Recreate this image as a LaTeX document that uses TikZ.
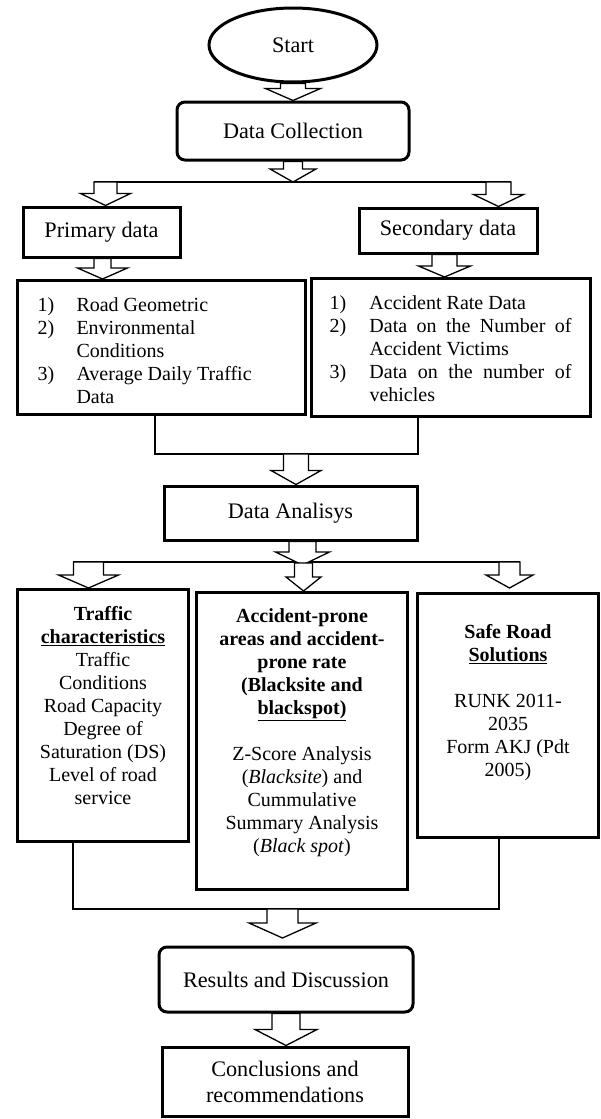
\documentclass[tikz,border=0pt]{standalone}
\usepackage{fontspec}
\setmainfont{Liberation Serif}
\usetikzlibrary{shapes.geometric,calc,backgrounds}
\newcommand{\bigfnt}{\fontsize{22.2pt}{26pt}\selectfont}
\newcommand{\smfnt}{\fontsize{20pt}{23pt}\selectfont}
\newcommand{\itm}[2]{\hangindent=#1\hangafter=1\strut\makebox[#1][l]{#2}\ignorespaces}
\begin{document}
\begin{tikzpicture}[x=1pt,y=-1pt,
  box/.style={draw=black, line width=3pt, inner sep=0pt, align=center, font=\bigfnt},
  rbox/.style={box, rounded corners=8pt},
  pbox/.style={draw=black, line width=3pt, inner sep=0pt, anchor=north west},
  conn/.style={draw=black, line width=1.3pt},
  barrow/.style n args={3}{draw=black, fill=white, line width=1.3pt, line join=miter,
    to path={let \p1=(\tikztostart), \p2=(\tikztotarget) in
      (\x1-#1,\y1) -- (\x1-#1,\y2+#3) -- (\x1-#2,\y2+#3) -- (\x1,\y2)
      -- (\x1+#2,\y2+#3) -- (\x1+#1,\y2+#3) -- (\x1+#1,\y1) -- cycle}}
]
\useasboundingbox (0,0) rectangle (600,1119);

% ---------- nodes ----------
\node[box, ellipse, minimum width=168pt, minimum height=74pt] (start) at (293,45) {Start};
\node[rbox, minimum width=232pt, minimum height=58pt] (dc) at (293,131) {Data Collection};
\node[box, minimum width=157pt, minimum height=50pt] (prim) at (101.5,232) {Primary data};
\node[box, minimum width=178pt, minimum height=45pt] (sec) at (448,230.5) {Secondary data};

\node[pbox] (plist) at (16,279) {\parbox[c][134pt][t]{288pt}{\smfnt\parindent=0pt\hyphenpenalty=10000
  \leftskip=20pt \rightskip=20pt plus 1fil \vspace*{15pt}
  \itm{39pt}{1)}Road Geometric\par
  \itm{39pt}{2)}Environmental Conditions\par
  \itm{39pt}{3)}Average Daily Traffic Data\par}};

\node[pbox] (slist) at (310,277) {\parbox[c][138pt][t]{279pt}{\smfnt\parindent=0pt\hyphenpenalty=10000
  \tolerance=10000\hbadness=10000
  \leftskip=18pt \rightskip=19pt \vspace*{15pt}
  \itm{40pt}{1)}Accident Rate Data\par
  \itm{40pt}{2)}Data on the Number of Accident Victims\par
  \itm{40pt}{3)}Data on the number of vehicles\par}};

\node[box, minimum width=253pt, minimum height=54pt] (da) at (290.5,513) {Data Analisys};

\node[pbox] (tc) at (16,588) {\parbox[c][252pt][t]{171pt}{\smfnt\centering\vspace*{15pt}
  \strut\textbf{Traffic}\\
  \textbf{\underline{characteristics}}\\
  Traffic\\
  Conditions\\
  Road Capacity\\
  Degree of\\
  Saturation (DS)\\
  Level of road\\
  service\par}};

\node[pbox] (ap) at (195,591) {\parbox[c][297pt][t]{211pt}{\smfnt\centering\vspace*{14pt}
  \strut\textbf{Accident-prone}\\
  \textbf{areas and accident-}\\
  \textbf{prone rate}\\
  \textbf{(Blacksite and}\\
  \textbf{\underline{blackspot)}}\\[23pt]
  Z-Score Analysis\\
  (\textit{Blacksite}) and\\
  Cummulative\\
  Summary Analysis\\
  (\textit{Black spot})\par}};

\node[pbox] (sr) at (416,592) {\parbox[c][244pt][t]{181pt}{\smfnt\centering\vspace*{29pt}
  \strut\textbf{Safe Road}\\
  \textbf{\underline{Solutions}}\\[23pt]
  RUNK 2011-\\
  2035\\
  Form AKJ (Pdt\\
  2005)\par}};

\node[rbox, minimum width=254pt, minimum height=65pt] (rd) at (286,979.5) {Results and Discussion};
\node[box, minimum width=246pt, minimum height=69pt] (cr) at (285,1081.5) {Conclusions and\\recommendations};

% ---------- coordinates ----------
\coordinate (h1l) at (94,182);
\coordinate (h1r) at (511,182);
\coordinate (b1) at (105.5,182);
\coordinate (b2) at (498.5,182);
\coordinate (p5) at ([xshift=1pt]prim.south);
\coordinate (p6) at ([xshift=-3.5pt]sec.south);
\coordinate (m1a) at (155,454);
\coordinate (m1b) at (418,454);
\coordinate (j2) at (296,454);
\coordinate (p8) at ([xshift=12pt]da.south);
\coordinate (t8) at (302.5,565);
\coordinate (h2l) at (73,562);
\coordinate (h2r) at (520,562);
\coordinate (c9) at (88.5,562);
\coordinate (c10) at (303.5,563);
\coordinate (c11) at (509.5,562);
\coordinate (t11) at (509.5,588);
\coordinate (m2a) at (73,909);
\coordinate (m2b) at (499,909);
\coordinate (j3) at (282.5,909);
\coordinate (t12) at (282.5,938);

% ---------- connectors ----------
\begin{scope}[on background layer]
\draw[conn] (h1l) -- (h1r);
\draw[conn] (m1a |- plist.south) -- (m1a) -- (m1b) -- (m1b |- slist.south);
\draw[conn] (h2l) -- (h2r);
\draw[conn] (m2a |- tc.south) -- (m2a) -- (m2b) -- (m2b |- sr.south);

\draw[barrow={12.5pt}{27.5pt}{12pt}] (start.south) to (dc.north);
\draw[barrow={9.5pt}{23pt}{13pt}] (dc.south) to (dc.south |- h1l);
\draw[barrow={11.5pt}{25pt}{12pt}] (b1) to (b1 |- prim.north);
\draw[barrow={12.5pt}{25pt}{12pt}] (b2) to (b2 |- sec.north);
\draw[barrow={8.5pt}{25pt}{11pt}] (p5) to (p5 |- plist.north);
\draw[barrow={12.5pt}{26pt}{11pt}] (p6) to (p6 |- slist.north);
\draw[barrow={12.5pt}{25pt}{14pt}] (j2) to (j2 |- da.north);
\draw[barrow={13.5pt}{27pt}{13pt}] (p8) to (t8);
\draw[barrow={15pt}{30pt}{13pt}] (c9) to (c9 |- tc.north);
\draw[barrow={9pt}{17.5pt}{14pt}] (c10) to (c10 |- ap.north);
\draw[barrow={10.5pt}{23.5pt}{13pt}] (c11) to (t11);
\draw[barrow={15.5pt}{33.5pt}{15pt}] (j3) to (t12);
\draw[barrow={14pt}{31pt}{16pt}] (rd.south) to (cr.north);
\end{scope}
\end{tikzpicture}
\end{document}
